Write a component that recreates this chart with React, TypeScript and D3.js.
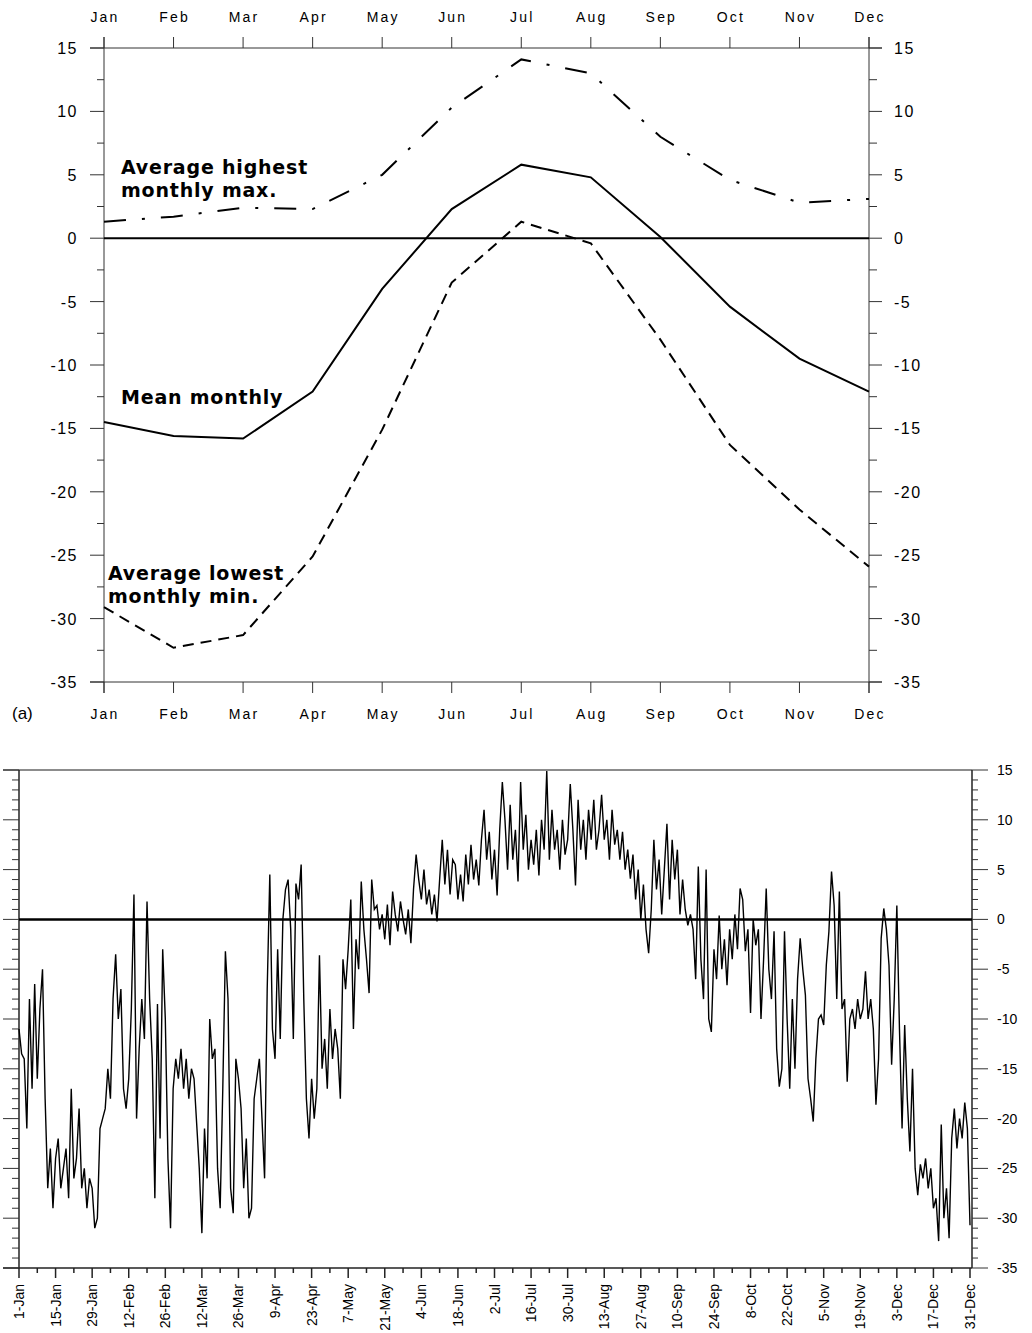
import React, { useRef, useEffect } from "react";
import * as d3 from "d3";

// panel (a): monthly temperatures
const months = ["Jan", "Feb", "Mar", "Apr", "May", "Jun", "Jul", "Aug", "Sep", "Oct", "Nov", "Dec"];
const meanMonthly = [-14.5, -15.6, -15.8, -12.1, -4.0, 2.3, 5.8, 4.8, 0.1, -5.4, -9.5, -12.1];
const avgHighestMax = [1.3, 1.7, 2.4, 2.3, 5.0, 10.3, 14.1, 13.0, 8.0, 4.6, 2.8, 3.1];
const avgLowestMin = [-29.1, -32.3, -31.3, -25.1, -15.1, -3.5, 1.3, -0.4, -8.0, -16.3, -21.4, -25.9];

// panel (b): daily series, 1-Jan .. 31-Dec
const dailyTemp = [
  -11, -13.5, -14, -21, -8, -17, -6.5,
  -16, -9, -5, -18, -27, -23, -29,
  -24, -22, -27, -25, -23, -28, -17,
  -26, -24, -19, -27, -25, -29, -26,
  -27, -31, -30, -21, -20, -19, -15,
  -18, -8, -3.5, -10, -7, -17, -19,
  -16, -9, 2.5, -20, -13, -8, -12,
  1.8, -8, -14, -28, -8.5, -22, -3,
  -10, -24, -31, -17, -14, -16, -13,
  -17, -14, -18, -15, -16, -20.5, -25,
  -31.5, -21, -26, -10, -14, -13, -25,
  -29, -17, -3.2, -8, -27, -29.5, -14,
  -16, -19, -27, -22, -30, -29, -18,
  -16, -14, -20, -26, -7, 4.5, -11,
  -14, -3, -12, 0, 3, 4, -1,
  -12, 3.6, 2, 5.5, -8, -18, -22,
  -16, -20, -17, -3.6, -15, -12, -17,
  -9, -14, -11, -13, -18, -4, -7,
  -3, 2, -11, -2, -5, 3.8, -1,
  -4, -7.4, 4, 1, 1.4, -1, 0.5,
  -2, 1.5, -2.6, 2.8, 0.5, -1.2, 1.8,
  0, -1.5, 1, -2.4, 3, 6.5, 4,
  2, 5, 1.5, 3, 0.5, 2.5, -0.2,
  4, 8, 3.5, 7, 2.5, 6, 5.5,
  2, 4.5, 1.8, 6.5, 3.5, 7.5, 4,
  6, 3.4, 8, 11, 6, 8.8, 4,
  7, 2.4, 9, 13.8, 10, 5, 11.5,
  6, 9, 3.8, 13.8, 7, 10.5, 5,
  8, 5.5, 9, 4.4, 10, 7, 14.9,
  6, 11, 7, 9, 5, 10, 6.5,
  8, 13.6, 9, 3.4, 12, 7, 10,
  6, 11, 8, 12, 7, 9, 12.5,
  8, 10, 6, 11, 7.5, 9, 6,
  8.8, 5, 7, 4.1, 6.5, 2, 5,
  0, 3.5, -1, -3.4, 1, 8, 3,
  6, 0.5, 5, 9.6, 2, 8, 4,
  7, 0.5, 4, 1, -0.6, 0.5, -1,
  -6, 5.3, -4, -8, 5, -10, -11.3,
  -3, -6, 0.4, -5, -2, -6.6, -1,
  -4, 0.5, -3, 3.1, 2, -3.2, -1,
  -9.4, 0, -2.6, -1, -10, -4, 3.1,
  -5, -8, -1.2, -13, -16.8, -15, -1.2,
  -10, -17, -8, -15, -6, -1.9, -5,
  -7.6, -16, -18, -20.3, -14, -10, -9.6,
  -10.6, -4.6, -1.2, 4.8, 1.4, -8, 2.8,
  -9, -8, -16.3, -10, -9, -11, -8,
  -10, -9, -5.2, -10, -8, -11, -18.6,
  -14, -1.9, 1.1, -1, -4.6, -14.6, -8,
  1.4, -11, -21, -10.6, -18, -23.3, -15,
  -25, -27.7, -24.6, -26, -24, -27, -25,
  -29, -28, -32.3, -20.6, -30, -27, -32,
  -22, -19, -23, -20, -22, -18.4, -21,
  -30.7,
];

const dateLabels = [
  "1-Jan", "15-Jan", "29-Jan", "12-Feb", "26-Feb", "12-Mar", "26-Mar", "9-Apr", "23-Apr",
  "7-May", "21-May", "4-Jun", "18-Jun", "2-Jul", "16-Jul", "30-Jul", "13-Aug", "27-Aug",
  "10-Sep", "24-Sep", "8-Oct", "22-Oct", "5-Nov", "19-Nov", "3-Dec", "17-Dec", "31-Dec",
];

const tempTicks = [15, 10, 5, 0, -5, -10, -15, -20, -25, -30, -35];

const FONT = "'Liberation Sans', Arial, Helvetica, sans-serif";
const BOLD = "'DejaVu Sans', 'Liberation Sans', Arial, sans-serif";
const AXIS = "#333";

const App = () => {
  const ref = useRef(null);

  useEffect(() => {
    const svg = d3.select(ref.current);
    svg.selectAll("*").remove();

    // ---------- panel (a) ----------
    const x = d3.scalePoint().domain(months).range([104, 869]);
    const y = d3.scaleLinear().domain([-35, 15]).range([682, 48]);
    const a = svg.append("g");

    a.append("line").attr("x1", 90).attr("x2", 882).attr("y1", y(15)).attr("y2", y(15)).attr("stroke", AXIS);
    a.append("line").attr("x1", 90).attr("x2", 882).attr("y1", y(-35)).attr("y2", y(-35)).attr("stroke", AXIS);
    a.append("line").attr("x1", 104).attr("x2", 104).attr("y1", 37).attr("y2", 693).attr("stroke", AXIS);
    a.append("line").attr("x1", 869).attr("x2", 869).attr("y1", 37).attr("y2", 693).attr("stroke", AXIS);

    months.forEach((m) => {
      a.append("line").attr("x1", x(m)).attr("x2", x(m)).attr("y1", 37).attr("y2", 48).attr("stroke", AXIS);
      a.append("line").attr("x1", x(m)).attr("x2", x(m)).attr("y1", 682).attr("y2", 693).attr("stroke", AXIS);
      [22, 719].forEach((yy) =>
        a.append("text").attr("x", x(m) + 1).attr("y", yy).attr("text-anchor", "middle")
          .attr("font-family", FONT).attr("font-size", 14).attr("letter-spacing", 2.2).text(m)
      );
    });

    d3.range(-35, 15.1, 2.5).forEach((v) => {
      const major = v % 5 === 0;
      a.append("line").attr("x1", major ? 90 : 97).attr("x2", 104).attr("y1", y(v)).attr("y2", y(v)).attr("stroke", AXIS);
      a.append("line").attr("x1", 869).attr("x2", major ? 882 : 877).attr("y1", y(v)).attr("y2", y(v)).attr("stroke", AXIS);
    });
    tempTicks.forEach((v) => {
      a.append("text").attr("x", 78).attr("y", y(v) + 6).attr("text-anchor", "end")
        .attr("font-family", FONT).attr("font-size", 16).attr("letter-spacing", 1.5).text(v);
      a.append("text").attr("x", 894).attr("y", y(v) + 6)
        .attr("font-family", FONT).attr("font-size", 16).attr("letter-spacing", 1.5).text(v);
    });

    a.append("line").attr("x1", 104).attr("x2", 869).attr("y1", y(0)).attr("y2", y(0))
      .attr("stroke", "#000").attr("stroke-width", 2);

    const line = d3.line().x((d, i) => x(months[i])).y((d) => y(d));
    a.append("path").attr("d", line(meanMonthly)).attr("fill", "none").attr("stroke", "#000").attr("stroke-width", 2);
    a.append("path").attr("d", line(avgHighestMax)).attr("fill", "none").attr("stroke", "#000")
      .attr("stroke-width", 2).attr("stroke-dasharray", "22 16 3 16");
    a.append("path").attr("d", line(avgLowestMin)).attr("fill", "none").attr("stroke", "#000")
      .attr("stroke-width", 2).attr("stroke-dasharray", "11 7");

    const label = (tx, ty, t) =>
      a.append("text").attr("x", tx).attr("y", ty).attr("font-family", BOLD).attr("font-weight", "bold")
        .attr("font-size", 19).attr("letter-spacing", 0.8).text(t);
    label(121, 174, "Average highest");
    label(121, 197, "monthly max.");
    label(121, 404, "Mean monthly");
    label(108, 580, "Average lowest");
    label(108, 603, "monthly min.");

    a.append("text").attr("x", 12).attr("y", 719).attr("font-family", FONT).attr("font-size", 17).text("(a)");

    // ---------- panel (b) ----------
    const xd = d3.scaleLinear().domain([0, 364]).range([19, 970]);
    const yb = d3.scaleLinear().domain([-35, 15]).range([1268, 770]);
    const b = svg.append("g");

    b.append("line").attr("x1", 3).attr("x2", 972).attr("y1", yb(15)).attr("y2", yb(15)).attr("stroke", "#666").attr("stroke-width", 1.5);
    b.append("line").attr("x1", 3).attr("x2", 972).attr("y1", yb(-35)).attr("y2", yb(-35)).attr("stroke", "#222").attr("stroke-width", 1.5);
    b.append("line").attr("x1", 19).attr("x2", 19).attr("y1", yb(15)).attr("y2", yb(-35)).attr("stroke", "#222").attr("stroke-width", 1.5);
    b.append("line").attr("x1", 972).attr("x2", 972).attr("y1", yb(15)).attr("y2", yb(-35)).attr("stroke", "#222").attr("stroke-width", 1.5);

    d3.range(-35, 16, 1).forEach((v) => {
      const major = v % 5 === 0;
      b.append("line").attr("x1", major ? 3 : 12).attr("x2", 19).attr("y1", yb(v)).attr("y2", yb(v)).attr("stroke", AXIS);
      b.append("line").attr("x1", 972).attr("x2", major ? 988 : 978).attr("y1", yb(v)).attr("y2", yb(v)).attr("stroke", AXIS);
    });
    tempTicks.forEach((v) => {
      b.append("text").attr("x", 997).attr("y", yb(v) + 5).attr("font-family", FONT).attr("font-size", 14).text(v);
    });

    d3.range(0, 365, 7).forEach((d) => {
      const major = d % 14 === 0;
      b.append("line").attr("x1", xd(d)).attr("x2", xd(d)).attr("y1", 1268).attr("y2", major ? 1278 : 1273)
        .attr("stroke", "#222").attr("stroke-width", 1.5);
    });
    dateLabels.forEach((t, i) => {
      const px = xd(i * 14);
      b.append("text").attr("transform", `translate(${px + 5},1284) rotate(-90)`).attr("text-anchor", "end")
        .attr("font-family", FONT).attr("font-size", 14).text(t);
    });

    b.append("line").attr("x1", 19).attr("x2", 972).attr("y1", yb(0)).attr("y2", yb(0))
      .attr("stroke", "#000").attr("stroke-width", 2.5);

    const dline = d3.line().x((d, i) => xd(i)).y((d) => yb(d));
    b.append("path").attr("d", dline(dailyTemp)).attr("fill", "none").attr("stroke", "#000").attr("stroke-width", 1.4);
  }, []);

  return (
    <svg ref={ref} width={1032} height={1333}
      style={{ position: "absolute", left: 0, top: 0, background: "#fff" }} />
  );
};

export default App;
